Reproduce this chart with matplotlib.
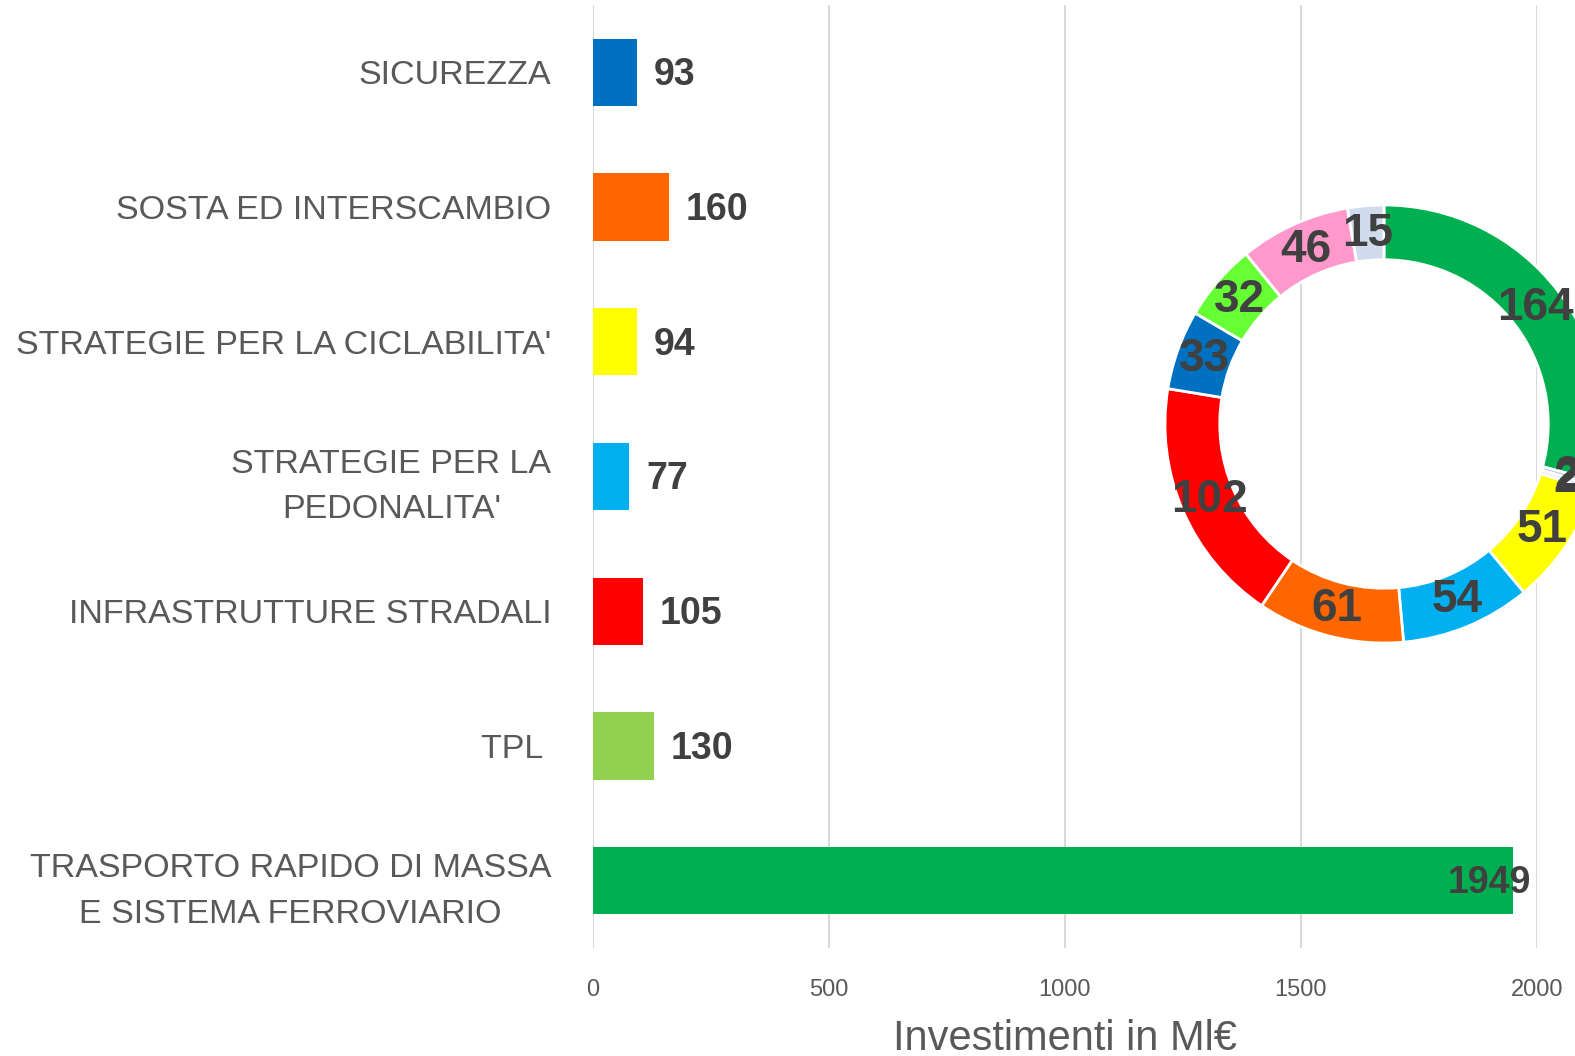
import matplotlib
matplotlib.use("Agg")
import matplotlib.pyplot as plt
import numpy as np

# bar chart data (top to bottom)
categories = ["SICUREZZA", "SOSTA ED INTERSCAMBIO", "STRATEGIE PER LA CICLABILITA'",
              "STRATEGIE PER LA\nPEDONALITA'", "INFRASTRUTTURE STRADALI", "TPL ",
              "TRASPORTO RAPIDO DI MASSA\nE SISTEMA FERROVIARIO"]
values = [93, 160, 94, 77, 105, 130, 1949]
bar_colors = ["#0070C0", "#FF6600", "#FFFF00", "#00B0F0", "#FF0000", "#92D050", "#00B050"]
xticks = [0, 500, 1000, 1500, 2000]

# donut data (clockwise from top)
donut_values = [164, 2, 2, 51, 54, 61, 102, 33, 32, 46, 15]
donut_colors = ["#00B050", "#B4C7E7", "#DDEBF7", "#FFFF00", "#00B0F0", "#FF6600",
                "#FF0000", "#0070C0", "#66FF33", "#FF99CC", "#D0DCEE"]

plt.rcParams['font.family'] = ["Liberation Sans", "DejaVu Sans"]
GREY = "#595959"
DARK = "#404040"

W, H = 1575, 1056
fig = plt.figure(figsize=(W / 100, H / 100), dpi=100)
ax = fig.add_axes([593 / W, 1 - 948 / H, (1537 - 593) / W, (948 - 5) / H])

y = np.arange(len(categories))
ax.barh(y, values, height=0.5, color=bar_colors, zorder=3)
ax.set_ylim(len(categories) - 0.5, -0.5)
ax.set_xlim(0, 2000)
ax.set_yticks(y)
ax.set_yticklabels(categories, fontsize=24.5, color=GREY, multialignment='center',
                   linespacing=1.6)
ax.set_xticks(xticks)
ax.set_xticklabels([str(t) for t in xticks], fontsize=17, color=GREY)
ax.tick_params(axis='y', length=0, pad=30)
ax.tick_params(axis='x', length=0, pad=22)
ax.grid(axis='x', color="#D9D9D9", linewidth=1.5, zorder=0)
for s in ax.spines.values():
    s.set_visible(False)
ax.set_xlabel("Investimenti in Ml€", fontsize=30, color=GREY, labelpad=13)

for yi, v in zip(y, values):
    if v > 1000:
        ax.annotate(str(v), (v, yi), xytext=(13, -2), textcoords='offset points',
                    ha='right', va='center', fontsize=27, fontweight='bold', color=DARK, zorder=5)
    else:
        ax.annotate(str(v), (v, yi), xytext=(12, -2), textcoords='offset points',
                    ha='left', va='center', fontsize=27, fontweight='bold', color=DARK)

# donut, partly outside the figure on the right
cx, cy, r = 1384, 424, 219
dax = fig.add_axes([(cx - r) / W, 1 - (cy + r) / H, 2 * r / W, 2 * r / H])
total = sum(donut_values)
wedges, _, autotexts = dax.pie(donut_values, colors=donut_colors, startangle=90, counterclock=False,
                               radius=1, wedgeprops=dict(width=0.25, edgecolor='white', linewidth=2),
                               autopct=lambda p: f"{p * total / 100:.0f}", pctdistance=0.87)
for t in autotexts:
    t.set_fontsize(33)
    t.set_fontweight('bold')
    t.set_color(DARK)
dax.set_xlim(-1, 1)
dax.set_ylim(-1, 1)
dax.set_aspect('equal')

fig.savefig("out.png", dpi=100)
